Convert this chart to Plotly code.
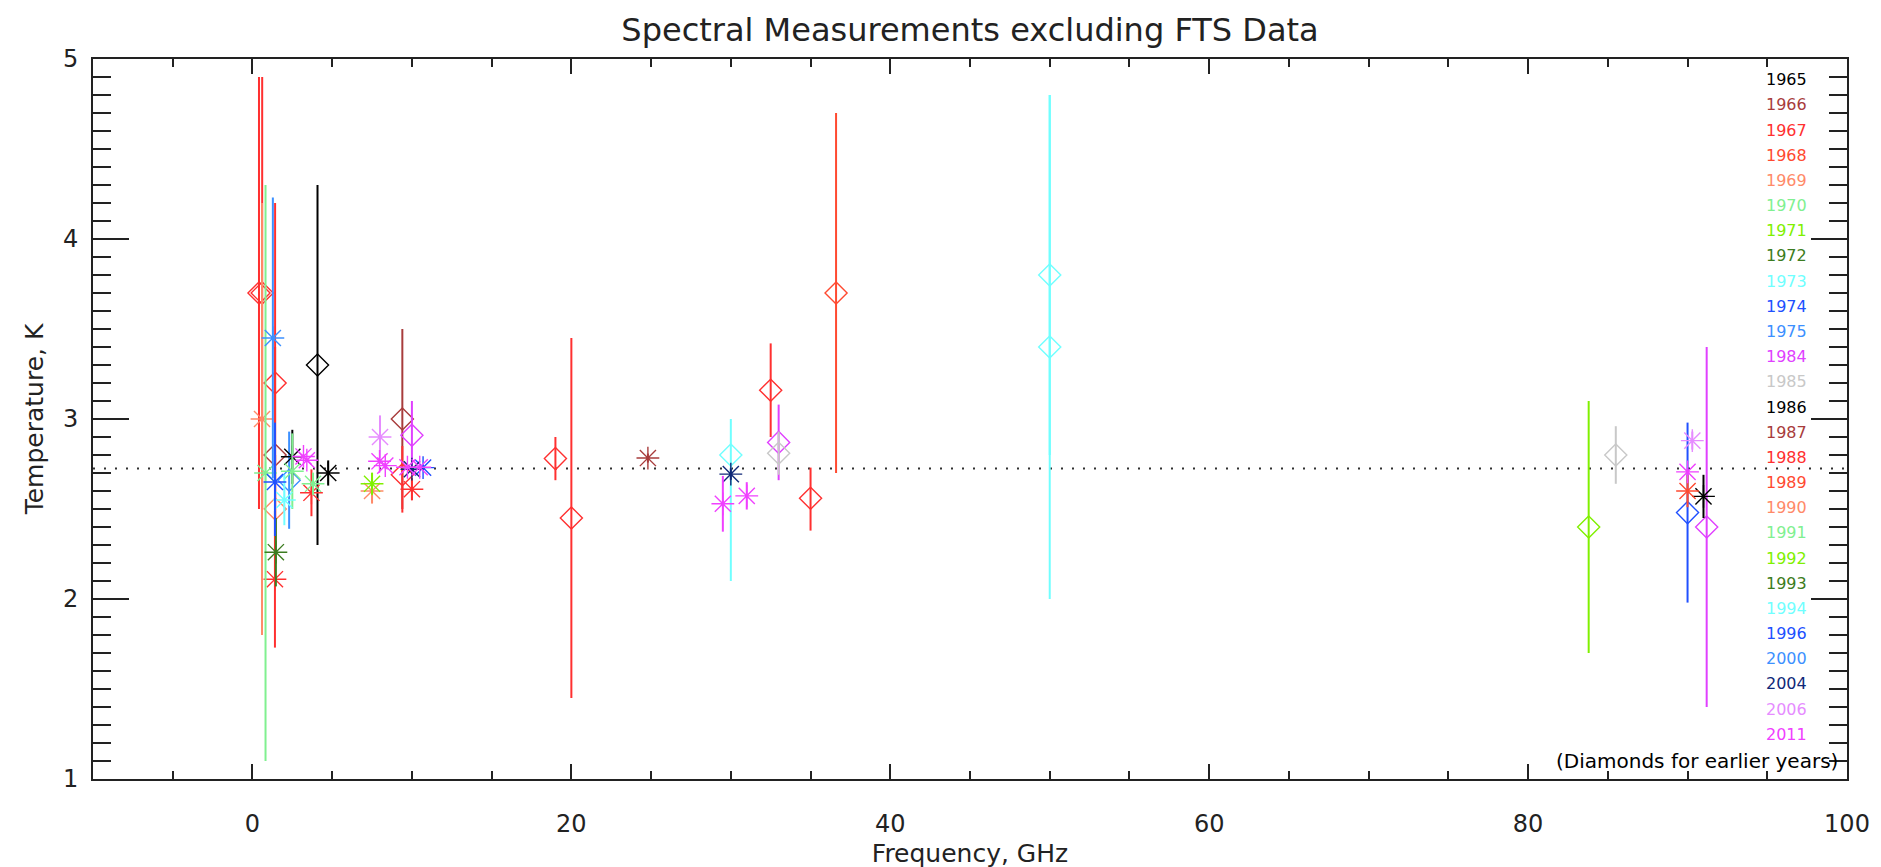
import plotly.graph_objects as go

# ---------------- data ----------------
legend_years = [1965, 1966, 1967, 1968, 1969, 1970, 1971, 1972, 1973, 1974, 1975,
                1984, 1985, 1986, 1987, 1988, 1989, 1990, 1991, 1992, 1993, 1994,
                1996, 2000, 2004, 2006, 2011]
legend_colors = ["#000000", "#a83c3c", "#ff3030", "#ff4a30", "#ff8a68", "#80f090",
                 "#80f000", "#3c7c20", "#70ffff", "#2050ff", "#3c90ff", "#e040ff",
                 "#c8c8c8", "#000000", "#a83c3c", "#ff3030", "#ff4a30", "#ff8a68",
                 "#80f090", "#80f000", "#3c7c20", "#70ffff", "#2050ff", "#3c90ff",
                 "#102878", "#e68cff", "#f040ff"]

years   = [1965, 1966, 1966, 1967, 1967, 1967, 1967, 1967, 1967, 1967, 1967,
           1968, 1969, 1971, 1973, 1973, 1973, 1974, 1975, 1984, 1984, 1984, 1985, 1985,
           1986, 1986, 1986, 1987, 1988, 1988, 1988, 1989, 1990, 1990, 1991, 1991, 1991,
           1992, 1993, 1994, 1996, 1996, 2000, 2004, 2004, 2006, 2006,
           2011, 2011, 2011, 2011, 2011, 2011, 2011, 2011, 2011]
freq    = [4.08, 1.42, 9.4, 0.41, 0.61, 1.42, 9.4, 19.0, 20.0, 32.5, 35.0,
           36.6, 1.43, 83.8, 50.0, 50.0, 30.0, 90.0, 2.3, 10.0, 33.0, 91.2, 33.0, 85.5,
           2.5, 4.75, 91.0, 24.8, 1.41, 3.7, 10.0, 90.0, 0.6, 7.5, 0.82, 2.5, 3.8,
           7.5, 1.47, 2.0, 1.41, 10.7, 1.28, 10.0, 30.0, 8.0, 90.3,
           3.20, 3.41, 7.97, 8.33, 9.72, 10.49, 29.5, 31.0, 90.0]
temp    = [3.3, 2.8, 3.0, 3.7, 3.7, 3.2, 2.69, 2.78, 2.45, 3.16, 2.56,
           3.7, 2.5, 2.4, 3.8, 3.4, 2.8, 2.48, 2.66, 2.91, 2.87, 2.4, 2.81, 2.80,
           2.79, 2.70, 2.57, 2.783, 2.11, 2.59, 2.61, 2.60, 3.0, 2.60, 2.7, 2.71, 2.64,
           2.64, 2.26, 2.55, 2.65, 2.730, 3.45, 2.721, 2.694, 2.90, 2.88,
           2.792, 2.771, 2.765, 2.741, 2.732, 2.732, 2.529, 2.573, 2.706]
err_hi  = [1.0, 0.6, 0.5, 1.2, 1.2, 1.0, 0.16, 0.12, 1.0, 0.26, 0.17,
           1.0, 0.3, 0.7, 1.0, 1.4, 0.2, 0.5, 0.27, 0.19, 0.21, 1.0, 0.12, 0.16,
           0.15, 0.07, 0.12, 0.025, 0.38, 0.13, 0.06, 0.09, 1.2, 0.07, 1.6, 0.21, 0.06,
           0.06, 0.19, 0.14, 0.33, 0.014, 0.78, 0.010, 0.032, 0.12, 0.05,
           0.010, 0.009, 0.014, 0.016, 0.006, 0.006, 0.155, 0.076, 0.019]
err_lo  = [1.0, 0.6, 0.5, 1.2, 1.2, 1.0, 0.21, 0.12, 1.0, 0.26, 0.18,
           1.0, 0.3, 0.7, 1.0, 1.4, 0.7, 0.5, 0.27, 0.19, 0.21, 1.0, 0.12, 0.16,
           0.15, 0.07, 0.12, 0.025, 0.38, 0.13, 0.06, 0.09, 1.2, 0.07, 1.6, 0.21, 0.06,
           0.06, 0.19, 0.14, 0.30, 0.014, 0.78, 0.010, 0.032, 0.12, 0.05,
           0.010, 0.009, 0.014, 0.016, 0.006, 0.006, 0.155, 0.076, 0.019]

t_cmb = 2.725
x_ticks = [0, 20, 40, 60, 80, 100]
y_ticks = [1, 2, 3, 4, 5]
diamond_cutoff = 1985

FONT = "DejaVu Sans, sans-serif"

fig = go.Figure()

# reference line
fig.add_shape(type="line", xref="paper", yref="y", x0=0, x1=1, y0=t_cmb, y1=t_cmb,
              line=dict(color="#303030", width=2, dash="2px,9px"), layer="below")

color_of = dict(zip(legend_years, legend_colors))
for yr in legend_years:
    idx = [i for i, y in enumerate(years) if y == yr]
    if not idx:
        continue
    col = color_of[yr]
    sym = "diamond-open" if yr <= diamond_cutoff else "asterisk-open"
    fig.add_trace(go.Scatter(
        x=[freq[i] for i in idx], y=[temp[i] for i in idx],
        mode="markers",
        marker=dict(symbol=sym, size=17 if sym.startswith("diamond") else 19,
                    color=col, line=dict(color=col, width=1.4)),
        error_y=dict(type="data", symmetric=False,
                     array=[err_hi[i] for i in idx],
                     arrayminus=[err_lo[i] for i in idx],
                     color=col, thickness=2, width=0),
        showlegend=False, hoverinfo="x+y"))

# year legend
L, R, T, B = 85, 1839, 51, 783
W, H = R - L, B - T
for i, (yr, col) in enumerate(zip(legend_years, legend_colors)):
    ypix = 72 + 25.6 * i
    fig.add_annotation(x=(1801 - L) / W, y=(B - ypix) / H, xref="paper", yref="paper",
                       text=str(yr), showarrow=False, xanchor="right", yanchor="middle",
                       font=dict(family=FONT, size=16, color=col))
fig.add_annotation(x=(1832 - L) / W, y=(B - 765) / H, xref="paper", yref="paper",
                   text="(Diamonds for earlier years)", showarrow=False,
                   xanchor="right", yanchor="middle",
                   font=dict(family=FONT, size=20, color="#000000"))

axis_common = dict(showgrid=False, zeroline=False, showline=True, linecolor="#222222",
                   linewidth=2, mirror="allticks", ticks="inside", tickcolor="#222222",
                   tickwidth=2, tickfont=dict(family=FONT, size=24, color="#222222"))

fig.update_xaxes(range=[-10, 100], tickvals=x_ticks, ticklen=15,
                 minor=dict(dtick=5, tick0=0, ticklen=8, ticks="inside",
                            tickcolor="#222222", tickwidth=2),
                 title=dict(text="Frequency, GHz", font=dict(family=FONT, size=25, color="#222222"),
                            standoff=8),
                 ticklabelstandoff=22, **axis_common)
fig.update_yaxes(range=[1, 5], tickvals=y_ticks, ticklen=36,
                 minor=dict(dtick=0.1, tick0=1, ticklen=18, ticks="inside",
                            tickcolor="#222222", tickwidth=2),
                 title=dict(text="Temperature, K", font=dict(family=FONT, size=25, color="#222222"),
                            standoff=12),
                 ticklabelstandoff=8, **axis_common)

fig.update_layout(
    width=1881, height=867,
    margin=dict(l=L, r=1881 - R, t=T, b=867 - B),
    paper_bgcolor="white", plot_bgcolor="white",
    title=dict(text="Spectral Measurements excluding FTS Data", x=(L + W / 2) / 1881,
               xanchor="center", y=1 - 22 / 867, yanchor="middle",
               font=dict(family=FONT, size=32, color="#222222")),
    showlegend=False,
)

fig.write_html("out.html")
